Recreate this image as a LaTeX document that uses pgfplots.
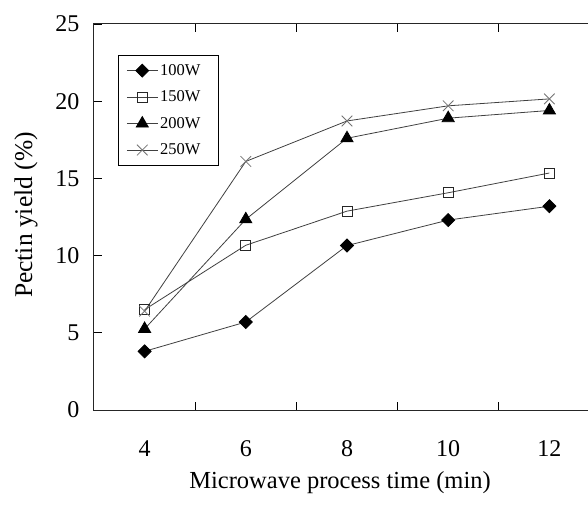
\documentclass[border=0pt]{standalone}
\usepackage{pgfplots}
\pgfplotsset{compat=1.18}
\usepackage{fontspec}
\setmainfont{Liberation Serif}

\begin{document}
\begin{tikzpicture}
% page = 588 x 506, plot box lower-left at (0,0)
\useasboundingbox (-94pt,-96pt) rectangle (494pt,410pt);
\clip (-94pt,-96pt) rectangle (494pt,410pt);
\begin{axis}[
 at={(0,0)}, anchor=south west,
 scale only axis,
 width=506pt, height=386pt,
 xmin=-0.5, xmax=4.5,
 ymin=0, ymax=25,
 xtick={0,1,2,3,4},
 xticklabels={4,6,8,10,12},
 minor xtick={0.5,1.5,2.5,3.5},
 ytick={0,5,10,15,20,25},
 major x tick style={draw=none},
 tick align=inside,
 major tick length=8pt, minor tick length=8pt,
 tick style={line width=0.8pt, black},
 axis line style={line width=1pt, black!85},
 /pgf/number format/assume math mode=true,
 ticklabel style={font=\fontsize{24}{27}\selectfont},
 xticklabel style={yshift=-27pt},
 yticklabel style={xshift=-11pt},
 xlabel={Microwave process time (min)},
 ylabel={Pectin yield (\%)},
 xlabel style={font=\fontsize{24.5}{28}\selectfont,
   at={(axis description cs:0.4862,0)}, anchor=base, yshift=-78pt},
 every axis y label/.style={font=\fontsize{25.5}{29}\selectfont,
   at={(axis description cs:-0.1225,0.505)}, rotate=90, anchor=base},
 legend style={at={(axis description cs:0.0474,0.9197)}, anchor=north west,
   draw=black, line width=0.8pt, font=\fontsize{16.5}{19}\selectfont,
   row sep=10pt, inner xsep=8pt, inner ysep=7pt,
   nodes={inner sep=2pt}},
 legend cell align=left,
 legend image code/.code={\draw[mark repeat=2,mark phase=2,#1]
   plot coordinates {(0pt,0pt) (15.5pt,0pt) (31pt,0pt)};},
 every axis plot/.append style={line width=0.8pt, black!75},
]
\addplot[mark=square*, mark size=4.6pt, mark options={rotate=45, fill=black, draw=black, solid}] coordinates {
 (0,3.8) (1,5.7) (2,10.65) (3,12.3) (4,13.2)
};
\addlegendentry{\makebox[48pt][l]{100W}}
\addplot[mark=square, mark size=5pt, mark options={draw=black!85, line width=0.8pt}] coordinates {
 (0,6.5) (1,10.67) (2,12.88) (3,14.07) (4,15.35)
};
\addlegendentry{\makebox[48pt][l]{150W}}
\addplot[mark=triangle*, mark size=7pt, mark options={fill=black, draw=black}] coordinates {
 (0,5.25) (1,12.35) (2,17.6) (3,18.9) (4,19.4)
};
\addlegendentry{\makebox[48pt][l]{200W}}
\addplot[mark=x, mark size=7.5pt, mark options={draw=black!55, line width=0.8pt}] coordinates {
 (0,6.4) (1,16.1) (2,18.72) (3,19.7) (4,20.15)
};
\addlegendentry{\makebox[48pt][l]{250W}}
\end{axis}
\end{tikzpicture}
\end{document}
